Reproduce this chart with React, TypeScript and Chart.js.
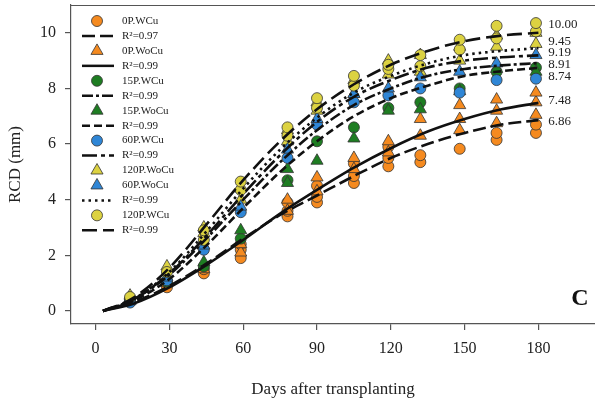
import React, { useEffect, useRef } from "react";
import { Chart, registerables } from "chart.js";

Chart.register(...registerables);

// ---- data ----
const days = [14, 29, 44, 59, 78, 90, 105, 119, 132, 148, 163, 179];

const p0WCu = [[0.4, 0.35], [0.95, 0.85], [1.35, 1.5], [1.9, 2.2, 2.4], [3.4, 3.6, 3.9], [3.9, 4.1, 4.5], [4.6, 4.85, 5.3], [5.2, 5.5, 5.9], [5.35, 5.6], [5.83], [6.15, 6.4], [6.4, 6.7]];
const p0WoCu = [[0.4], [1.0], [1.5], [2.1, 2.4], [3.6, 4.0], [4.3, 4.8], [5.1, 5.5], [5.7, 6.1], [6.3, 6.9], [6.5, 6.9, 7.4], [6.75, 7.2, 7.6], [7.05, 7.5, 7.85]];
const p15WCu = [[0.4], [1.05], [1.6], [2.6], [4.7], [6.1], [6.6], [7.3], [7.5], [8.0], [8.6], [8.75]];
const p15WoCu = [[0.45], [1.1], [1.75], [2.9], [4.6, 5.1], [5.4], [6.2], [7.2], [7.25], [7.9], [8.7], [8.6]];
const p60WCu = [[0.3], [1.1], [2.2], [3.55], [5.5], [6.7], [7.5], [7.75], [8.0], [7.85], [8.3], [8.35]];
const p120WoCu = [[0.55], [1.6], [2.8, 3.0], [4.0, 4.4], [6.1, 6.5], [7.2, 7.5], [7.8, 8.3], [8.5, 9.0], [8.6, 9.2], [9.0, 9.5], [9.5, 9.9], [9.6, 10.0]];
const p60WoCu = [[0.35], [1.2], [2.35], [3.75], [5.8], [6.9], [7.8], [8.0], [8.4], [8.6], [8.9], [9.2]];
const p120WCu = [[0.5], [1.4], [2.55, 2.9], [4.35, 4.65], [6.3, 6.6], [7.3, 7.65], [8.1, 8.45], [8.7, 8.85], [8.8, 9.2], [9.4, 9.75], [9.8, 10.25], [10.05, 10.35]];

const seriesNames = ["0P.WCu", "0P.WoCu", "15P.WCu", "15P.WoCu", "60P.WCu", "120P.WoCu", "60P.WoCu", "120P.WCu"];

const fitDays = [3, 15, 30, 45, 60, 75, 90, 105, 120, 135, 150, 165, 180];
const fit0WCu = [0, 0.3, 0.9, 1.7, 2.6, 3.45, 4.15, 4.85, 5.5, 6.0, 6.4, 6.7, 6.86];
const fit0WoCu = [0, 0.25, 0.85, 1.65, 2.55, 3.5, 4.35, 5.15, 5.85, 6.45, 6.9, 7.25, 7.48];
const fit15WCu = [0, 0.4, 1.3, 2.6, 4.0, 5.35, 6.5, 7.4, 8.0, 8.45, 8.7, 8.83, 8.91];
const fit15WoCu = [0, 0.35, 1.15, 2.35, 3.7, 5.0, 6.1, 7.0, 7.65, 8.1, 8.45, 8.62, 8.74];
const fit60WCu = [0, 0.4, 1.35, 2.7, 4.2, 5.6, 6.8, 7.7, 8.3, 8.75, 9.0, 9.12, 9.19];
const fit60WoCu = [0, 0.4, 1.4, 2.85, 4.4, 5.8, 6.95, 7.85, 8.45, 8.9, 9.2, 9.35, 9.45];
const fit120WCu = [0, 0.45, 1.55, 3.1, 4.7, 6.1, 7.25, 8.15, 8.85, 9.35, 9.7, 9.9, 10.0];

const fitR2 = ["0.97", "0.99", "0.99", "0.99", "0.99", "0.99", "0.99"];

const xTicks = [0, 30, 60, 90, 120, 150, 180];
const yTicks = [0, 2, 4, 6, 8, 10];

const endLabels = ["10.00", "9.45", "9.19", "8.91", "8.74", "7.48", "6.86"];
const endLabelAt = [10.29, 9.68, 9.28, 8.85, 8.42, 7.55, 6.8];
const endLabelX = 184;

// ---- styles ----
const SERIF = "'Liberation Serif', 'Times New Roman', serif";
const ORANGE = "#F58A1F";
const GREEN = "#1E7D22";
const BLUE = "#2F86D6";
const YELLOW = "#DCD241";
const AXIS = "#555";

const pointSeries = [
  { data: p0WCu, color: ORANGE, style: "circle" },
  { data: p0WoCu, color: ORANGE, style: "triangle" },
  { data: p15WCu, color: GREEN, style: "circle" },
  { data: p15WoCu, color: GREEN, style: "triangle" },
  { data: p60WCu, color: BLUE, style: "circle" },
  { data: p120WoCu, color: YELLOW, style: "triangle" },
  { data: p60WoCu, color: BLUE, style: "triangle" },
  { data: p120WCu, color: YELLOW, style: "circle" },
];

const fitSeries = [
  { data: fit0WCu, dash: [13, 5] },
  { data: fit0WoCu, dash: [] },
  { data: fit15WCu, dash: [11, 3, 3, 3] },
  { data: fit15WoCu, dash: [8, 4] },
  { data: fit60WCu, dash: [15, 4, 4, 4] },
  { data: fit60WoCu, dash: [2.5, 4] },
  { data: fit120WCu, dash: [15, 6] },
];

// legend order: [kind, index]
const legendOrder: [string, number][] = [
  ["p", 0], ["f", 0], ["p", 1], ["f", 1], ["p", 2], ["f", 2], ["p", 3], ["f", 3],
  ["p", 4], ["f", 4], ["p", 5], ["p", 6], ["f", 5], ["p", 7], ["f", 6],
];

function toPts(vals: number[][]) {
  return days.flatMap((d, i) => vals[i].map((v) => ({ x: d, y: v })));
}

function drawMarker(ctx: CanvasRenderingContext2D, style: string, x: number, y: number, color: string) {
  ctx.save();
  ctx.fillStyle = color;
  ctx.strokeStyle = "#333";
  ctx.lineWidth = 0.8;
  ctx.setLineDash([]);
  ctx.beginPath();
  if (style === "circle") {
    ctx.arc(x, y, 5.5, 0, Math.PI * 2);
  } else {
    const r = 7;
    ctx.moveTo(x, y - r);
    ctx.lineTo(x + r * Math.sin(Math.PI / 3), y + r / 2);
    ctx.lineTo(x - r * Math.sin(Math.PI / 3), y + r / 2);
    ctx.closePath();
  }
  ctx.fill();
  ctx.stroke();
  ctx.restore();
}

const decorPlugin = {
  id: "decor",
  afterDraw(chart: any) {
    const { ctx, chartArea, scales } = chart;
    ctx.save();
    // top border
    ctx.strokeStyle = AXIS;
    ctx.lineWidth = 1.2;
    ctx.beginPath();
    ctx.moveTo(chartArea.left, chartArea.top + 0.5);
    ctx.lineTo(chartArea.right, chartArea.top + 0.5);
    ctx.stroke();

    // legend
    const startY = 21;
    const step = 14.95;
    ctx.font = `11px ${SERIF}`;
    ctx.textBaseline = "middle";
    ctx.textAlign = "left";
    legendOrder.forEach(([kind, idx], row) => {
      const y = startY + row * step;
      if (kind === "p") {
        const s = pointSeries[idx];
        drawMarker(ctx, s.style, 97, y, s.color);
        ctx.fillStyle = "#222";
        ctx.fillText(seriesNames[idx], 122, y);
      } else {
        const f = fitSeries[idx];
        ctx.strokeStyle = "#111";
        ctx.lineWidth = 2.5;
        ctx.setLineDash(f.dash);
        ctx.beginPath();
        ctx.moveTo(82, y);
        ctx.lineTo(114, y);
        ctx.stroke();
        ctx.setLineDash([]);
        ctx.fillStyle = "#222";
        ctx.fillText("R\u00B2=" + fitR2[idx], 122, y);
      }
    });

    // end labels
    ctx.font = `13px ${SERIF}`;
    ctx.fillStyle = "#222";
    endLabels.forEach((t, i) => {
      ctx.fillText(t, scales.x.getPixelForValue(endLabelX), scales.y.getPixelForValue(endLabelAt[i]));
    });

    // panel letter
    ctx.font = `bold 24px ${SERIF}`;
    ctx.fillStyle = "#111";
    ctx.textAlign = "center";
    ctx.fillText("C", chartArea.right - 15, chartArea.bottom - 25);
    ctx.restore();
  },
};

export default function App() {
  const ref = useRef<HTMLCanvasElement | null>(null);

  useEffect(() => {
    if (!ref.current) return;
    const datasets: any[] = [];
    fitSeries.forEach((f, i) => {
      datasets.push({
        label: "fit" + i,
        data: fitDays.map((d, k) => ({ x: d, y: f.data[k] })),
        showLine: true,
        pointRadius: 0,
        borderColor: "#111",
        borderWidth: 2.6,
        borderDash: f.dash,
        cubicInterpolationMode: "monotone",
        fill: false,
        order: 0,
      });
    });
    pointSeries.forEach((s, i) => {
      datasets.push({
        label: seriesNames[i],
        data: toPts(s.data),
        pointStyle: s.style,
        pointRadius: s.style === "circle" ? 5.5 : 7,
        backgroundColor: s.color,
        borderColor: "#333",
        pointBorderWidth: 0.8,
        showLine: false,
        order: 10 - i,
      });
    });

    const chart = new Chart(ref.current, {
      type: "scatter",
      data: { datasets },
      options: {
        animation: false,
        responsive: false,
        maintainAspectRatio: false,
        layout: { autoPadding: false, padding: { top: 5, right: 0, left: 0, bottom: 0 } },
        plugins: { legend: { display: false }, tooltip: { enabled: false } },
        scales: {
          x: {
            type: "linear",
            min: -10,
            max: 203,
            afterBuildTicks: (s: any) => {
              s.ticks = xTicks.map((v) => ({ value: v }));
            },
            afterFit: (s: any) => {
              s.height = 80;
              s.paddingLeft = 0;
              s.paddingRight = 0;
            },
            grid: { display: true, drawOnChartArea: false, drawTicks: true, tickLength: 6, color: AXIS, lineWidth: 1.2 },
            border: { display: true, color: AXIS, width: 1.2 },
            ticks: { color: "#222", font: { family: SERIF, size: 16 }, padding: 9, maxRotation: 0 },
            title: {
              display: true,
              text: "Days after transplanting",
              color: "#222",
              font: { family: SERIF, size: 17 },
              padding: { top: 0, bottom: 4 },
            },
          },
          y: {
            type: "linear",
            min: -0.47,
            max: 11,
            afterBuildTicks: (s: any) => {
              s.ticks = yTicks.map((v) => ({ value: v }));
            },
            afterFit: (s: any) => {
              s.width = 71;
              s.paddingTop = 0;
              s.paddingBottom = 0;
            },
            grid: { display: true, drawOnChartArea: false, drawTicks: true, tickLength: 6, color: AXIS, lineWidth: 1.2 },
            border: { display: true, color: AXIS, width: 1.2 },
            ticks: { color: "#222", font: { family: SERIF, size: 16 }, padding: 9 },
            title: {
              display: true,
              text: "RCD (mm)",
              color: "#222",
              font: { family: SERIF, size: 17 },
              padding: { top: 5, bottom: 0 },
            },
          },
        },
      },
      plugins: [decorPlugin],
    } as any);
    return () => chart.destroy();
  }, []);

  return (
    <div style={{ position: "fixed", left: 0, top: 0, width: 595, height: 404, background: "#fff" }}>
      <canvas ref={ref} width={595} height={404} style={{ display: "block", width: 595, height: 404 }} />
    </div>
  );
}
